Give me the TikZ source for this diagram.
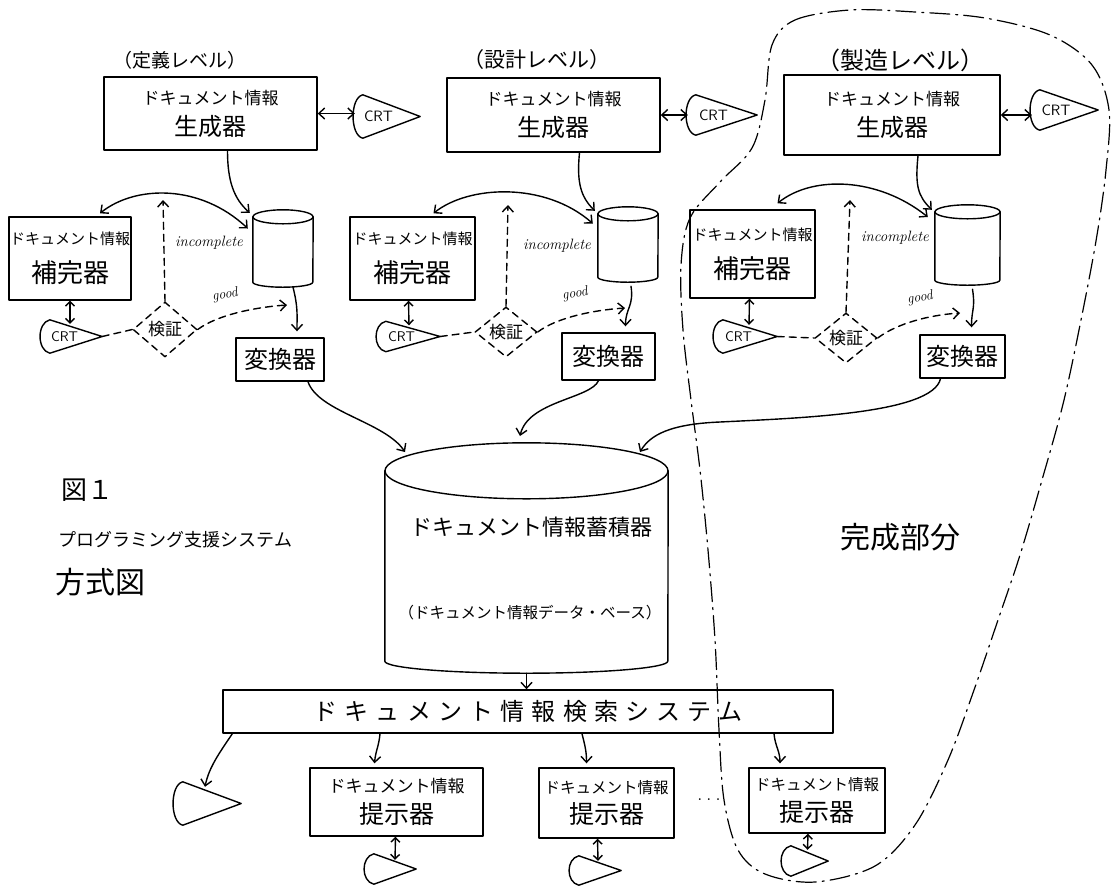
\documentclass[tikz,border=0pt]{standalone}
\usepackage{fontspec}
\newfontfamily\jp{Noto Sans CJK JP}
\usetikzlibrary{arrows.meta,shapes.geometric,calc}
\newcommand\fsz[2]{\fontsize{#1}{#2}\selectfont}
\newcommand\cyloutline[4]{%
  \draw[ln] ([yshift=-#3]#1.north) ellipse [x radius=#2, y radius=#3];
  \draw[ln] ([yshift=-#3]#1.north west) -- ([yshift=#4]#1.south west) arc[start angle=180, end angle=360, x radius=#2, y radius=#4] -- ([yshift=-#3]#1.north east);}
\newcommand\crtoutline[1]{%
  \draw[ln] ([xshift=8pt]#1.north west) .. controls ([xshift=-5pt,yshift=-3pt]#1.north west) and ([xshift=-5pt,yshift=3pt]#1.south west) .. ([xshift=8pt]#1.south west) -- (#1.east) -- cycle;}
\tikzset{
  ln/.style={line width=1.4pt, line cap=round, line join=round},
  box/.style={draw, ln, inner sep=0pt, align=center},
  dashln/.style={ln, dash pattern=on 7pt off 5pt},
  dia/.style={diamond, draw, dashln, inner sep=0pt, font=\jp\fsz{17}{17}},
  crt/.style={inner sep=0pt, font=\sffamily\fsz{15}{15}},
  shortdbl/.style={arrows={Straight Barb[length=4.5pt,width=9pt]-Straight Barb[length=4.5pt,width=9pt]}},
  >={Straight Barb[length=6pt,width=11pt]}
}
\begin{document}
\begin{tikzpicture}[x=1pt,y=-1pt]
\useasboundingbox (0,0) rectangle (1116,887);

% level labels
\node[font=\jp\fsz{19}{19}] (lv1) at (180,60) {（定義レベル）};
\node[font=\jp\fsz{21}{21}] (lv2) at (537,60) {（設計レベル）};
\node[font=\jp\fsz{24}{24}] (lv3) at (900,60) {（製造レベル）};

% generators
\node[box, font=\jp\fsz{17}{31}, minimum width=213pt, minimum height=73pt] (gen1) at (210.5,113.5) {ドキュメント情報\\\fsz{24}{31}生成器};
\node[box, font=\jp\fsz{17}{31}, minimum width=213pt, minimum height=74pt] (gen2) at (553.5,115) {ドキュメント情報\\\fsz{24}{31}生成器};
\node[box, font=\jp\fsz{17}{31}, minimum width=216pt, minimum height=80pt] (gen3) at (892,115) {ドキュメント情報\\\fsz{24}{31}生成器};

% top CRTs
\node[crt, minimum width=65pt, minimum height=43pt] (crtT1) at (387.5,116.5) {CRT\hspace*{18pt}};
\crtoutline{crtT1}
\node[crt, minimum width=69pt, minimum height=40pt] (crtT2) at (722.5,115) {CRT\hspace*{18pt}};
\crtoutline{crtT2}
\node[crt, minimum width=66pt, minimum height=40pt] (crtT3) at (1065,110) {CRT\hspace*{18pt}};
\crtoutline{crtT3}

% supplementers
\node[box, font=\jp\fsz{15}{38}, minimum width=122pt, minimum height=83pt] (sup1) at (70,258.5) {ドキュメント情報\\\fsz{26}{38}補完器};
\node[box, font=\jp\fsz{15}{38}, minimum width=125pt, minimum height=83pt] (sup2) at (412.5,258.5) {ドキュメント情報\\\fsz{26}{38}補完器};
\node[box, font=\jp\fsz{15}{38}, minimum width=125pt, minimum height=88pt] (sup3) at (752.5,254) {ドキュメント情報\\\fsz{26}{38}補完器};

% small cylinders
\node[minimum width=60pt, minimum height=77pt, inner sep=0pt] (cyl1) at (283,248.5) {};
\cyloutline{cyl1}{30pt}{7pt}{5pt}
\node[minimum width=60pt, minimum height=75pt, inner sep=0pt] (cyl2) at (628,244.5) {};
\cyloutline{cyl2}{30pt}{7pt}{5pt}
\node[minimum width=65pt, minimum height=80pt, inner sep=0pt] (cyl3) at (967.5,245) {};
\cyloutline{cyl3}{32.5pt}{7pt}{5pt}

% diamonds
\node[dia, minimum width=64pt, minimum height=55pt] (dia1) at (165,329.5) {検証};
\node[dia, minimum width=62pt, minimum height=50pt] (dia2) at (506,332) {検証};
\node[dia, minimum width=62pt, minimum height=50pt] (dia3) at (846,338) {検証};

% lower CRTs
\node[crt, font=\sffamily\fsz{14}{14}, minimum width=60pt, minimum height=33pt] (crtB1) at (72,336.5) {CRT\hspace*{15pt}};
\crtoutline{crtB1}
\node[crt, font=\sffamily\fsz{14}{14}, minimum width=62pt, minimum height=30pt] (crtB2) at (409,336.5) {CRT\hspace*{15pt}};
\crtoutline{crtB2}
\node[crt, font=\sffamily\fsz{14}{14}, minimum width=62pt, minimum height=33pt] (crtB3) at (746,336.5) {CRT\hspace*{15pt}};
\crtoutline{crtB3}

% converters
\node[box, font=\jp\fsz{24}{24}, minimum width=88pt, minimum height=43pt] (conv1) at (280,359.5) {変換器};
\node[box, font=\jp\fsz{24}{24}, minimum width=93pt, minimum height=47pt] (conv2) at (608.5,356.5) {変換器};
\node[box, font=\jp\fsz{24}{24}, minimum width=85pt, minimum height=43pt] (conv3) at (962.5,356.5) {変換器};

% labels
\node[font=\itshape\fsz{15}{15}] (inc1t) at (209,243) {incomplete};
\node[font=\itshape\fsz{15}{15}] (inc2t) at (557,246) {incomplete};
\node[font=\itshape\fsz{15}{15}] (inc3t) at (895,238) {incomplete};
\node[font=\itshape\fsz{14}{14}, rotate=10, inner sep=1pt] (good1t) at (225,295) {good};
\node[font=\itshape\fsz{14}{14}, rotate=10, inner sep=1pt] (good2t) at (575,294) {good};
\node[font=\itshape\fsz{14}{14}, rotate=10, inner sep=1pt] (good3t) at (920,298) {good};

% free ends
\coordinate (inc1) at (163,200);
\coordinate (inc2) at (508,205);
\coordinate (inc3) at (850,200);
\coordinate (good1) at (287,305);
\coordinate (good2) at (625,308);
\coordinate (good3) at (960,313);
\coordinate (bin1) at (405,452);
\coordinate (bin2) at (520,436);
\coordinate (bin3) at (640,452);
\coordinate (bend3) at (720,422);

% big cylinder
\node[minimum width=283pt, minimum height=230pt, inner sep=0pt] (bigcyl) at (526.5,558) {};
\cyloutline{bigcyl}{141.5pt}{28pt}{12pt}
\node[font=\jp\fsz{22}{22}] (dbname) at (531,527) {ドキュメント情報蓄積器};
\node[font=\jp\fsz{15.5}{15.5}] (dbsub) at (530,613) {（ドキュメント情報データ・ベース）};

% search system
\node[box, font=\jp\fsz{24}{24}, minimum width=610pt, minimum height=43pt] (search) at (528,711.5) {\addfontfeature{LetterSpace=30}ドキュメント情報検索システム};

% presenters
\node[box, font=\jp\fsz{17}{31}, minimum width=173pt, minimum height=68pt] (box1) at (396.5,802) {ドキュメント情報\\\fsz{25}{31}提示器};
\node[box, font=\jp\fsz{15.5}{31}, minimum width=135pt, minimum height=70pt] (box2) at (606.5,803) {ドキュメント情報\\\fsz{25}{31}提示器};
\node[box, font=\jp\fsz{15.5}{31}, minimum width=136pt, minimum height=65pt] (box3) at (817,800.5) {ドキュメント情報\\\fsz{25}{31}提示器};

% output CRTs
\node[crt, minimum width=66pt, minimum height=43pt] (crtBL) at (208,803.5) {};
\crtoutline{crtBL}
\node[crt, minimum width=50pt, minimum height=30pt] (crtP1) at (391,869) {};
\crtoutline{crtP1}
\node[crt, minimum width=50pt, minimum height=29pt] (crtP2) at (596,870.5) {};
\crtoutline{crtP2}
\node[crt, minimum width=45pt, minimum height=30pt] (crtP3) at (805.5,861) {};
\crtoutline{crtP3}

\node[font=\fsz{22}{22}] (dots) at (709,800) {.\,.\,.};

% left caption and region label
\node[font=\jp\fsz{26}{26}, anchor=west] (fig) at (58,490) {図１};
\node[font=\jp\fsz{18}{18}, anchor=west] (figt1) at (55,540) {プログラミング支援システム};
\node[font=\jp\fsz{30}{30}, anchor=west] (figt2) at (52,582) {方式図};
\node[font=\jp\fsz{30}{30}] (done) at (900,537) {完成部分};

% ---- connectors level 1
\draw[ln,<->] (gen1.east) -- (gen1.east -| crtT1.west);
\draw[ln,->] ([xshift=17pt]gen1.south) .. controls +(0,30) and +(-16,-14) .. ([xshift=-3pt,yshift=-3pt]cyl1.north west);
\draw[ln,<->] ([xshift=30pt,yshift=3pt]sup1.north) .. controls +(35,-28) and +(-48,-45) .. ([xshift=-5pt,yshift=20pt]cyl1.west);
\draw[ln,shortdbl] (sup1.south) -- ([xshift=-2pt,yshift=-4pt]crtB1.north);
\draw[dashln] (crtB1.east) -- (dia1.west);
\draw[dashln,->] (dia1.north) -- (inc1);
\draw[dashln,->] (dia1.east) .. controls +(20,-15) and +(-30,2) .. (good1);
\draw[ln,->] ([xshift=10pt]cyl1.south) .. controls +(5,20) and +(0,-18) .. ([xshift=17pt,yshift=6pt]conv1.north);
\draw[ln,->] ([xshift=28pt]conv1.south) .. controls +(10,30) and +(-20,-30) .. (bin1);

% ---- connectors level 2
\draw[ln,<->] (gen2.east) -- (gen2.east -| crtT2.west);
\draw[ln,->] ([xshift=26pt]gen2.south) .. controls +(-3,30) and +(-14,-14) .. ([xshift=-3pt,yshift=-4pt]cyl2.north west);
\draw[ln,<->] ([xshift=21pt,yshift=3pt]sup2.north) .. controls +(35,-28) and +(-48,-42) .. ([xshift=-5pt,yshift=21pt]cyl2.west);
\draw[ln,shortdbl] ([xshift=-4pt]sup2.south) -- ([yshift=-4pt]crtB2.north);
\draw[dashln] (crtB2.east) -- (dia2.west);
\draw[dashln,->] (dia2.north) -- (inc2);
\draw[dashln,->] (dia2.east) .. controls +(20,-15) and +(-30,2) .. (good2);
\draw[ln,->] ([xshift=3pt,yshift=-4pt]cyl2.south) .. controls +(3,20) and +(0,-18) .. ([xshift=17pt,yshift=6pt]conv2.north);
\draw[ln,->] ([xshift=-10pt]conv2.south) .. controls +(-8,18) and +(8,-35) .. (bin2);

% ---- connectors level 3
\draw[ln,<->] (gen3.east) -- (gen3.east -| crtT3.west);
\draw[ln,->] ([xshift=26pt]gen3.south) .. controls +(-3,30) and +(-14,-14) .. ([xshift=-3pt,yshift=-5pt]cyl3.north west);
\draw[ln,<->] ([xshift=25pt,yshift=6pt]sup3.north) .. controls +(35,-28) and +(-50,-40) .. ([xshift=-7pt,yshift=28pt]cyl3.west);
\draw[ln,shortdbl] ([xshift=-3pt]sup3.south) -- ([xshift=3pt,yshift=-5pt]crtB3.north);
\draw[dashln] (crtB3.east) -- (dia3.west);
\draw[dashln,->] (dia3.north) -- (inc3);
\draw[dashln,->] (dia3.east) .. controls +(20,-15) and +(-30,2) .. (good3);
\draw[ln,->] ([xshift=5pt,yshift=-4pt]cyl3.south) .. controls +(3,20) and +(0,-18) .. ([xshift=9pt,yshift=7pt]conv3.north);
\draw[ln,->] ([xshift=-22pt]conv3.south) .. controls +(-8,35) and +(80,-4) .. (bend3) .. controls +(-50,2) and +(10,-17) .. (bin3);

% ---- lower connectors
\draw[ln,->] (bigcyl.south) -- (bigcyl.south |- search.north);
\draw[ln,->] ([xshift=10pt]search.south west) .. controls +(-12,18) and +(4,-20) .. ([xshift=-3pt,yshift=-5pt]crtBL.north);
\draw[ln,->] ([xshift=-148pt]search.south) .. controls +(-1,12) and +(1,-12) .. ([xshift=-22pt,yshift=4pt]box1.north);
\draw[ln,->] ([xshift=54pt]search.south) .. controls +(3,12) and +(0,-12) .. ([xshift=-20pt,yshift=4pt]box2.north);
\draw[ln,->] ([xshift=246pt]search.south) .. controls +(1,12) and +(0,-12) .. ([xshift=-37pt,yshift=4pt]box3.north);
\draw[ln,shortdbl] ([xshift=-1pt]box1.south) -- ([xshift=4pt,yshift=-6pt]crtP1.north);
\draw[ln,shortdbl] ([xshift=-9pt]box2.south) -- ([xshift=2pt,yshift=-5pt]crtP2.north);
\draw[ln,shortdbl] ([xshift=-9pt]box3.south) -- ([xshift=2pt,yshift=-4pt]crtP3.north);

% ---- completed-part boundary
\draw[line width=1.2pt, line cap=round, dash pattern=on 20pt off 6pt on 2pt off 6pt]
  plot[smooth cycle, tension=0.55] coordinates {
  (772,45) (795,20) (850,10) (915,12) (985,18) (1050,35) (1092,65) (1109,110)
  (1106,170) (1097,235) (1083,310) (1064,400) (1042,480) (1020,555) (998,620)
  (974,690) (948,760) (915,825) (875,866) (815,882) (765,874) (738,850)
  (724,800) (719,730) (715,640) (708,550) (700,470) (691,400) (683,330)
  (681,265) (690,218) (720,182) (752,148) (765,100)};
\end{tikzpicture}
\end{document}
